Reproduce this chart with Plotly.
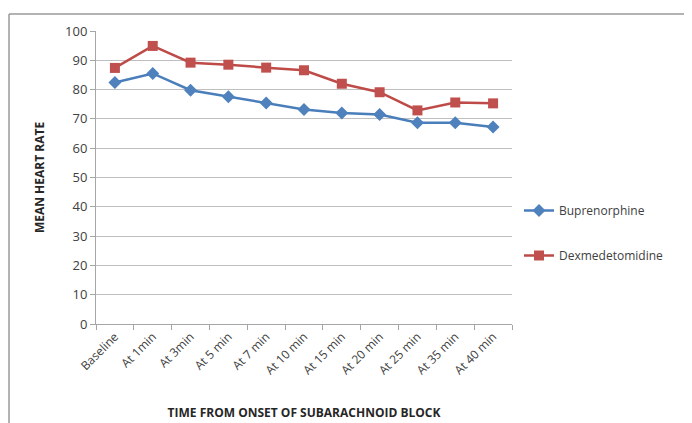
import plotly.graph_objects as go

categories = ["Baseline", "At 1min", "At 3min", "At 5 min", "At 7 min", "At 10 min",
              "At 15 min", "At 20 min", "At 25 min", "At 35 min", "At 40 min"]
buprenorphine = [82.4, 85.5, 79.8, 77.6, 75.4, 73.2, 72.0, 71.5, 68.7, 68.7, 67.2]
dexmedetomidine = [87.4, 94.9, 89.2, 88.5, 87.5, 86.6, 82.0, 79.1, 72.9, 75.6, 75.3]
y_ticks = [0, 10, 20, 30, 40, 50, 60, 70, 80, 90, 100]

# page has an 8px body margin, so figure coordinates = page coordinates - 8
OFF = 8
W, H = 692 - OFF, 423 - OFF
L, T = 96 - OFF, 31 - OFF
pw, ph = 416, 293
R = W - L - pw
B = H - T - ph

def px2paper_x(px):
    return (px - OFF - L) / pw

def py2paper_y(py):
    return (T + ph - (py - OFF)) / ph

fig = go.Figure()
fig.add_trace(go.Scatter(
    x=categories, y=buprenorphine, name="Buprenorphine", mode="lines+markers",
    line=dict(color="#4A7EBB", width=2.5),
    marker=dict(symbol="diamond", size=10, color="#4F81BD"),
    legendgroup="a"))
fig.add_trace(go.Scatter(
    x=categories, y=dexmedetomidine, name="Dexmedetomidine", mode="lines+markers",
    line=dict(color="#BE4B48", width=2.5),
    marker=dict(symbol="square", size=10, color="#C0504D"),
    legendgroup="b"))

font_family = "Open Sans, Liberation Sans, sans-serif"

fig.update_layout(
    width=W, height=H,
    margin=dict(l=L, r=R, t=T, b=B, autoexpand=False),
    paper_bgcolor="white", plot_bgcolor="white",
    font=dict(family=font_family, size=12, color="#404040"),
    showlegend=True,
    legend=dict(x=px2paper_x(519), y=py2paper_y(196), xanchor="left", yanchor="top",
                font=dict(size=12, color="#404040"), tracegroupgap=26, itemwidth=30,
                bgcolor="rgba(0,0,0,0)"),
    xaxis=dict(
        type="category", categoryorder="array", categoryarray=categories,
        range=[-0.5, len(categories) - 0.5], automargin=False,
        showgrid=False, showline=True, linecolor="#A6A6A6", linewidth=1,
        ticks="outside", tickson="boundaries", ticklen=5, tickcolor="#A6A6A6",
        tickangle=-45, tickfont=dict(size=12, color="#404040"),
        title=dict(text="<b>TIME FROM ONSET OF SUBARACHNOID BLOCK</b>",
                   font=dict(size=12, color="#262626"), standoff=31),
        zeroline=False,
    ),
    yaxis=dict(
        range=[0, 100], tickvals=y_ticks, automargin=False,
        showgrid=True, gridcolor="#BFBFBF", gridwidth=1,
        showline=True, linecolor="#A6A6A6", linewidth=1,
        ticks="outside", ticklen=5, tickcolor="#A6A6A6",
        tickfont=dict(size=13, color="#404040"),
        title=dict(text="<b>MEAN HEART RATE</b>", font=dict(size=12, color="#262626"),
                   standoff=17),
        zeroline=False,
    ),
    shapes=[
        dict(type="line", xref="paper", yref="paper",
             x0=px2paper_x(9), x1=px2paper_x(700), y0=py2paper_y(14), y1=py2paper_y(14),
             line=dict(color="#9A9A9A", width=1.5)),
        dict(type="line", xref="paper", yref="paper",
             x0=px2paper_x(9), x1=px2paper_x(9), y0=py2paper_y(14), y1=py2paper_y(430),
             line=dict(color="#9A9A9A", width=1.5)),
    ],
)

fig.write_html("out.html")
